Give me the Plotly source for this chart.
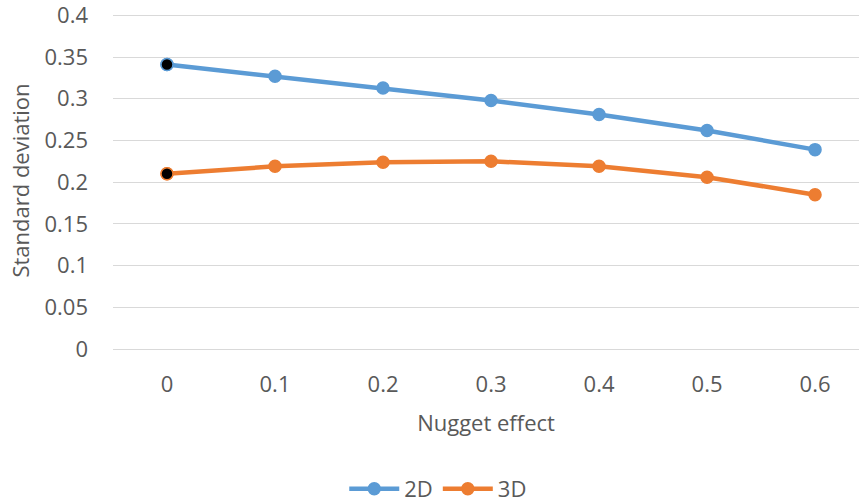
import plotly.graph_objects as go

nugget = ["0", "0.1", "0.2", "0.3", "0.4", "0.5", "0.6"]
sd_2d = [0.341, 0.327, 0.313, 0.298, 0.281, 0.262, 0.239]
sd_3d = [0.210, 0.219, 0.224, 0.225, 0.219, 0.206, 0.185]
y_ticks = [0, 0.05, 0.1, 0.15, 0.2, 0.25, 0.3, 0.35, 0.4]
y_labels = ["0", "0.05", "0.1", "0.15", "0.2", "0.25", "0.3", "0.35", "0.4"]

blue = "#5B9BD5"
orange = "#ED7D31"
font = "Open Sans, Liberation Sans, sans-serif"
grey = "#595959"

xs = list(range(len(nugget)))
fig = go.Figure()
for name, ys, col in [("2D", sd_2d, blue), ("3D", sd_3d, orange)]:
    fig.add_trace(go.Scatter(
        x=xs, y=ys, name=name, mode="lines+markers",
        line=dict(color=col, width=4.5),
        marker=dict(size=12, color=col, line=dict(color=col, width=1.5)),
    ))
# first point of each series highlighted with a black fill
for ys, col in [(sd_2d, blue), (sd_3d, orange)]:
    fig.add_trace(go.Scatter(
        x=xs[:1], y=ys[:1], mode="markers", showlegend=False,
        marker=dict(size=12, color="black", line=dict(color=col, width=1.5)),
    ))

fig.update_layout(
    width=859, height=504,
    margin=dict(l=113, r=0, t=12, b=155),
    paper_bgcolor="white", plot_bgcolor="white",
    font=dict(family=font, size=22, color=grey),
    showlegend=True,
    legend=dict(orientation="h", x=0.436, xanchor="center",
                yref="container", y=0.03, yanchor="middle", itemwidth=50,
                font=dict(size=22, color=grey), tracegroupgap=0),
    xaxis=dict(
        tickmode="array", tickvals=xs, ticktext=nugget, automargin=False,
        range=[-0.5, 6.407], showgrid=False, zeroline=False, showline=False,
        ticks="", ticklabelstandoff=20, tickfont=dict(size=22),
        title=dict(text="Nugget effect", font=dict(size=22, color=grey), standoff=18),
    ),
    yaxis=dict(
        range=[0, 0.404], tickmode="array", tickvals=y_ticks, ticktext=y_labels,
        automargin=False, ticklabeloverflow="allow",
        showgrid=True, gridcolor="#D9D9D9", gridwidth=1.3,
        zeroline=True, zerolinecolor="#D9D9D9", zerolinewidth=1.3,
        ticks="", ticklabelstandoff=24, tickfont=dict(size=22),
        title=dict(text="Standard deviation", font=dict(size=22, color=grey), standoff=8),
    ),
)

fig.write_html("out.html")
